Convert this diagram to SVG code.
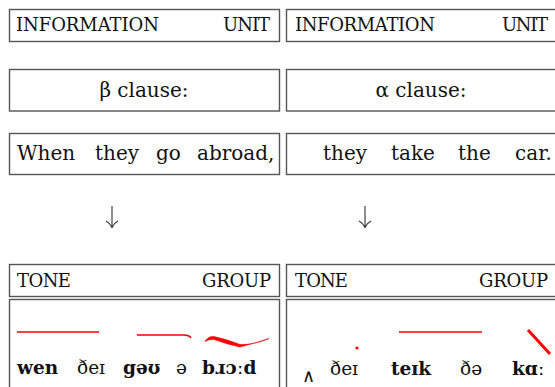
<svg xmlns="http://www.w3.org/2000/svg" width="555" height="387" viewBox="0 0 555 387">
<style>
.box{fill:#fff;stroke:#555;stroke-width:1.4}
.t{font-family:"DejaVu Serif","Liberation Serif",serif;fill:#111}
.cap{font-size:18px}
.big{font-size:20px}
.ipa{font-size:18.5px}
.b{font-weight:bold}
.red{stroke:#f00;fill:none;stroke-width:1.4}
.arr{stroke:#333;stroke-width:1.1;fill:none}
</style>
<rect width="555" height="387" fill="#fff"/>
<g id="info-unit-left"><rect class="box" x="9.5" y="9.5" width="270" height="32"/>
<text class="t cap" x="16" y="31" textLength="143">INFORMATION</text><text class="t cap" x="223" y="31" textLength="47">UNIT</text></g>
<g id="info-unit-right"><rect class="box" x="286.5" y="9.5" width="272" height="32"/>
<text class="t cap" x="295" y="31" textLength="140">INFORMATION</text><text class="t cap" x="502" y="31" textLength="46">UNIT</text></g>
<g id="beta-clause"><rect class="box" x="9.5" y="69.5" width="270" height="41.5"/>
<text class="t big" x="144" y="97" text-anchor="middle">β clause:</text></g>
<g id="alpha-clause"><rect class="box" x="286.5" y="69.5" width="272" height="41.5"/>
<text class="t big" x="421" y="97" text-anchor="middle">α clause:</text></g>
<g id="text-left"><rect class="box" x="9.5" y="133.5" width="270" height="41"/>
<text class="t big" y="160"><tspan x="17">When</tspan><tspan x="95">they</tspan><tspan x="156">go</tspan><tspan x="197">abroad,</tspan></text></g>
<g id="text-right"><rect class="box" x="286.5" y="133.5" width="272" height="41"/>
<text class="t big" y="160"><tspan x="323">they</tspan><tspan x="391">take</tspan><tspan x="458">the</tspan><tspan x="515">car.</tspan></text></g>
<g id="connectors">
<path class="arr" d="M112 206 V227.5 M106 221 Q110 223 112 227.5 Q114 223 118 221"/>
<path class="arr" d="M365 206 V227.5 M359 221 Q363 223 365 227.5 Q367 223 371 221"/>
</g>
<g id="tone-group-left"><rect class="box" x="9.5" y="264.5" width="270" height="32"/>
<text class="t cap" x="17" y="287" textLength="54">TONE</text><text class="t cap" x="202" y="287" textLength="69">GROUP</text></g>
<g id="tone-group-right"><rect class="box" x="286.5" y="264.5" width="272" height="32"/>
<text class="t cap" x="295" y="287" textLength="53">TONE</text><text class="t cap" x="479" y="287" textLength="69">GROUP</text></g>
<g id="tone-left"><rect class="box" x="9.5" y="299.5" width="270" height="100"/>
<line class="red" x1="17" y1="332" x2="99" y2="332"/>
<path class="red" d="M137 335 H184 Q189 335 191 338"/>
<path d="M205 341.5 Q208 336 214 336.5 Q226 339 240 344.5 Q254 345 269 338.5 Q254 343.5 240 347 Q226 344 214 339.5 Q209 339 205 341.5 Z" fill="#f00" stroke="#f00" stroke-width="0.6"/>
<text class="t ipa b" x="17" y="374">wen</text>
<text class="t ipa" x="77" y="374">ðeɪ</text>
<text class="t ipa b" x="123" y="374">gəʊ</text>
<text class="t ipa" x="176" y="374">ə</text>
<text class="t ipa b" x="202" y="374">bɹɔːd</text></g>
<g id="tone-right"><rect class="box" x="286.5" y="299.5" width="272" height="100"/>
<circle cx="357" cy="348" r="1.6" fill="#f00"/>
<line class="red" x1="399" y1="332" x2="482" y2="332"/>
<line x1="528" y1="330" x2="550" y2="354" stroke="#f00" stroke-width="3"/>
<text class="t" x="302" y="382" font-size="18" fill="#444">∧</text>
<text class="t ipa" x="330" y="375">ðeɪ</text>
<text class="t ipa b" x="391" y="375">teɪk</text>
<text class="t ipa" x="460" y="375">ðə</text>
<text class="t ipa b" x="512" y="375">kɑː</text></g>
</svg>
